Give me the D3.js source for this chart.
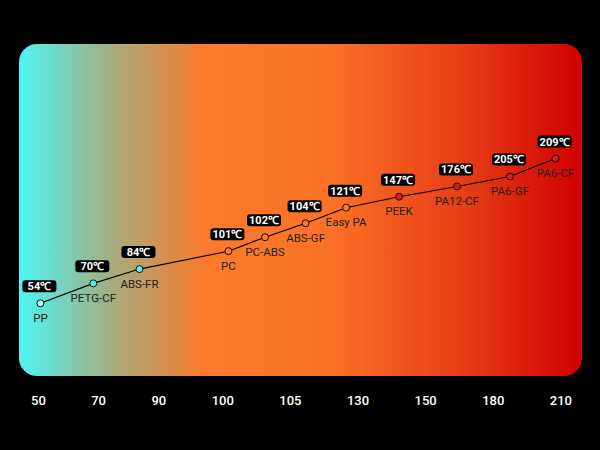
<!DOCTYPE html>
<html>
<head>
<meta charset="utf-8">
<script src="https://cdn.jsdelivr.net/npm/d3@7"></script>
<style>
  html, body { margin: 0; padding: 0; background: #000; }
  svg { display: block; }
</style>
</head>
<body>
<div id="chart"></div>
<script>
// materials in order along the curve
var materials = ["PP", "PETG-CF", "ABS-FR", "PC", "PC-ABS", "ABS-GF", "Easy PA", "PEEK", "PA12-CF", "PA6-GF", "PA6-CF"]
var temps = [54, 70, 84, 101, 102, 104, 121, 147, 176, 205, 209]
// position across the panel (0-100) and height up the panel (0-100)
var xPos = [3.8, 13.2, 21.4, 37.2, 43.7, 50.9, 58.1, 67.5, 77.8, 87.2, 95.3]
var yPos = [21.9, 27.9, 32.2, 37.6, 41.8, 46.0, 50.7, 54.0, 57.1, 60.1, 65.5]
var tickLabels = ["50", "70", "90", "100", "105", "130", "150", "180", "210"]

var data = materials.map(function (m, i) {
  return { name: m, temp: temps[i], x: xPos[i], y: yPos[i] }
})

var width = 600, height = 450
var panel = { left: 19, top: 44, right: 582, bottom: 376 }

var svg = d3.select("#chart")
  .append("svg")
  .attr("width", width)
  .attr("height", height)

svg.append("rect")
  .attr("width", width)
  .attr("height", height)
  .attr("fill", "#000")

var defs = svg.append("defs")
var grad = defs.append("linearGradient")
  .attr("id", "bg")
  .attr("x1", "0%").attr("x2", "100%")
  .attr("y1", "0%").attr("y2", "0%")
var stops = [
  [0, "#4ef4f4"],
  [0.17, "#a8ab7c"],
  [0.33, "#fc7a2c"],
  [0.55, "#fb7226"],
  [0.8, "#e63a16"],
  [1, "#d00000"]
]
grad.selectAll("stop")
  .data(stops)
  .enter()
  .append("stop")
  .attr("offset", function (d) { return d[0] })
  .attr("stop-color", function (d) { return d[1] })

svg.append("rect")
  .attr("x", panel.left)
  .attr("y", panel.top)
  .attr("width", panel.right - panel.left)
  .attr("height", panel.bottom - panel.top)
  .attr("rx", 18)
  .attr("fill", "url(#bg)")

var x = d3.scaleLinear().domain([0, 100]).range([panel.left, panel.right])
var y = d3.scaleLinear().domain([0, 100]).range([panel.bottom, panel.top])

// dot fill by temperature band
var dotColor = d3.scaleThreshold()
  .domain([60, 100, 140])
  .range(["#a8fafa", "#4ff0f0", "#ff7a2a", "#e01a1a"])

var line = d3.line()
  .x(function (d) { return x(d.x) })
  .y(function (d) { return y(d.y) })

svg.append("path")
  .datum(data)
  .attr("d", line)
  .attr("fill", "none")
  .attr("stroke", "#000")
  .attr("stroke-width", 1.1)

svg.selectAll(".dot")
  .data(data)
  .enter()
  .append("circle")
  .attr("class", "dot")
  .attr("cx", function (d) { return x(d.x) })
  .attr("cy", function (d) { return y(d.y) })
  .attr("r", 3.5)
  .attr("fill", function (d) { return dotColor(d.temp) })
  .attr("stroke", "#111")
  .attr("stroke-width", 1)

svg.selectAll(".name")
  .data(data)
  .enter()
  .append("text")
  .attr("class", "name")
  .attr("x", function (d) { return x(d.x) })
  .attr("y", function (d) { return y(d.y) + 18.5 })
  .attr("text-anchor", "middle")
  .attr("font-family", "Roboto, sans-serif")
  .attr("font-size", 11.5)
  .attr("fill", "#222")
  .text(function (d) { return d.name })

// temperature badges
var badge = svg.selectAll(".badge")
  .data(data)
  .enter()
  .append("g")
  .attr("class", "badge")
  .attr("transform", function (d) {
    return "translate(" + (x(d.x) - 1) + "," + (y(d.y) - 17) + ")"
  })

badge.append("rect")
  .attr("x", -17)
  .attr("y", -6)
  .attr("width", 34)
  .attr("height", 12)
  .attr("rx", 3)
  .attr("fill", "#000")

badge.append("text")
  .attr("y", 4)
  .attr("text-anchor", "middle")
  .attr("font-family", "Roboto, sans-serif")
  .attr("font-weight", "bold")
  .attr("font-size", 11)
  .attr("fill", "#fff")
  .text(function (d) { return d.temp + "℃" })

// bottom labels, spread with equal gaps between them
var ticks = svg.selectAll(".tick")
  .data(tickLabels)
  .enter()
  .append("text")
  .attr("class", "tick")
  .attr("y", 405)
  .attr("font-family", "Roboto, sans-serif")
  .attr("font-weight", 500)
  .attr("font-size", 13)
  .attr("fill", "#fff")
  .text(function (d) { return d })

var widths = []
ticks.each(function () { widths.push(this.getComputedTextLength()) })
var rowLeft = 31, rowRight = 572
var gap = (rowRight - rowLeft - d3.sum(widths)) / (tickLabels.length - 1)
var pos = rowLeft
ticks.attr("x", function (d, i) {
  var p = pos
  pos += widths[i] + gap
  return p
})
</script>
</body>
</html>
